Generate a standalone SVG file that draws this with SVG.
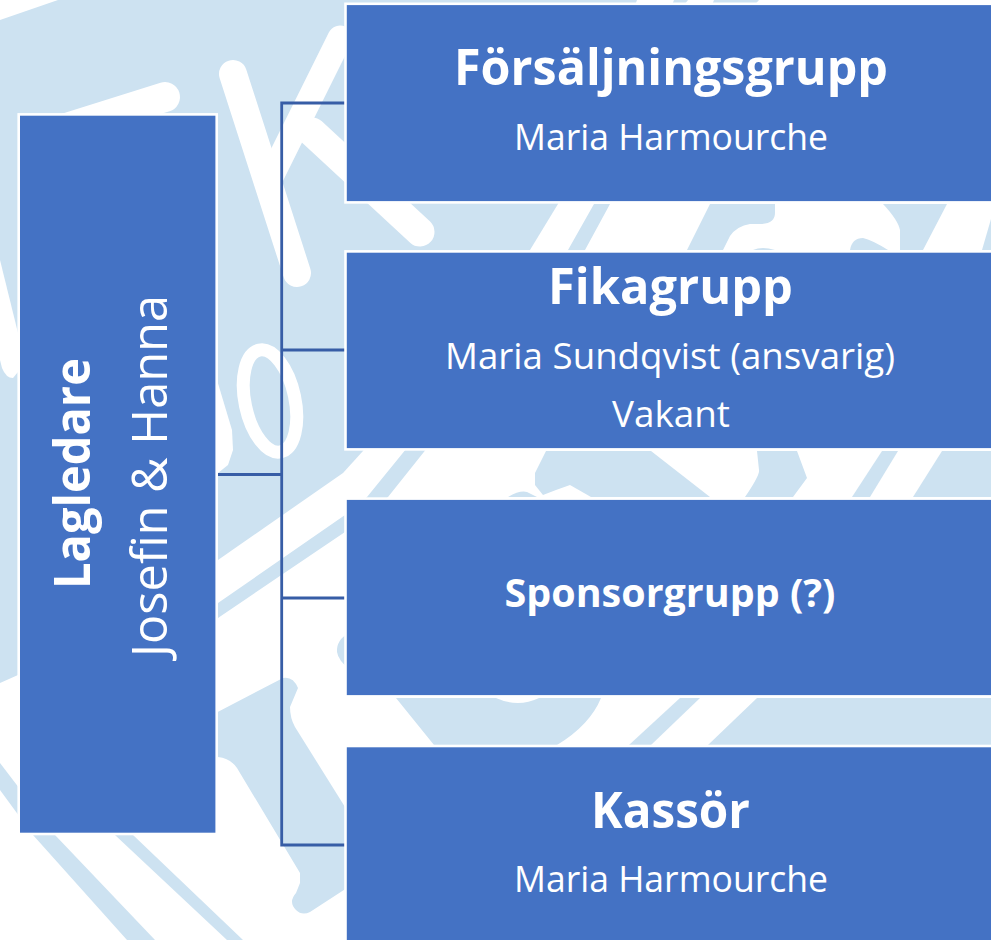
<svg xmlns="http://www.w3.org/2000/svg" width="991" height="940" viewBox="0 0 991 940">
<style>
.bg{fill:#cde2f1}
.wh{fill:#fff}
.ws{fill:none;stroke:#fff;stroke-linecap:round}
.box{fill:#4472c4;stroke:#fff;stroke-width:2.6}
.conn{fill:none;stroke:#375da6;stroke-width:2.8}
text{font-family:"Open Sans","Noto Sans","Liberation Sans",sans-serif;fill:#fff;text-anchor:start}
.t{font-weight:700}
.s{font-weight:400}
.l{font-weight:400}
</style>
<rect width="991" height="940" fill="#fff"/>
<g id="background">
<path class="bg" d="M0 0H637L558 204 530 250 363 451 343 473 218 560 18 675 0 683Z"/>
<path class="bg" d="M674 0H688L680 10H670ZM714 0H759L750 10H710Z"/>
<path class="bg" d="M594 204H610L585 250 388 497 345 532 218 618 200 630V612L218 603 345 515 367 497 568 250Z"/>
<path class="bg" d="M710 204H775V213Q775 223 762 224L750 224Q737 226 730 236L723 250H687Z"/>
<path class="bg" d="M753 250Q762 246 775 250Z"/>
<path class="bg" d="M883 204H947L923 250H900V230Q898 220 883 204Z"/>
<path class="bg" d="M850 250Q852 238 863 238 872 240 888 250Z"/>
<path class="bg" d="M991 219V250H982Z"/>
<path class="bg" d="M546 451H651L710 497H591L570 485 556 490 543 495 535 485V473Z"/>
<path class="bg" d="M508 497Q520 490 527 492L537 497Z"/>
<path class="bg" d="M757 451H797L807 478 793 497H745Q760 475 759 470Z"/>
<path class="bg" d="M882 451H898L870 497H852Z"/>
<path class="bg" d="M942 451H991V497H913Z"/>
<path class="bg" d="M396 698H496Q518 708 539 698H601Q590 725 557 745H434Z"/>
<path class="bg" d="M680 698H700L651 745H629Z"/>
<path class="bg" d="M757 698H991V745H708Z"/>
<path class="bg" d="M0 763 55 835 155 940H127L33 835 0 790Z"/>
<path class="bg" d="M100 815H118L133 835 243 940H227L115 835Z"/>
<path class="bg" d="M210 716 283 678Q293 676 298 688L290 707Q290 718 295 727L350 815V886L310 912Q302 916 296 910 288 902 296 893L300 883V873L237 768Q230 758 218 757H210Z"/>
<path class="bg" d="M350 632Q336 640 337 652 338 660 350 670Z"/>
<path class="wh" d="M0 0H58L0 20Z"/>
<path class="wh" d="M0 260 18 333V372L13 378Q6 378 2 368L0 360Z"/>
<path class="ws" stroke-width="30" d="M60 130 165 97"/>
<path class="ws" stroke-width="28" d="M233 74 297 273"/>
<path class="ws" stroke-width="25" d="M340 38 272 175"/>
<path class="ws" stroke-width="29" d="M312 132 420 232"/>
<ellipse cx="270" cy="401" rx="25" ry="52" transform="rotate(-12 270 401)" fill="none" stroke="#fff" stroke-width="13"/>
<path class="wh" d="M210 380H217L232 430 233 450 228 465 218 473H210Z"/>
</g>
<g id="connectors">
<path class="conn" d="M345 103H281.7V845H345M281.7 350H345M281.7 598H345M218 474.5H281.7"/>
</g>
<g id="node-lagledare">
<rect class="box" x="18.7" y="114.4" width="198" height="719.6"/>
<text class="t" font-size="50" transform="translate(90 589) rotate(-90)" textLength="231" lengthAdjust="spacingAndGlyphs">Lagledare</text>
<text class="l" font-size="50" transform="translate(166.7 657) rotate(-90)" textLength="362" lengthAdjust="spacingAndGlyphs">Josefin &amp; Hanna</text>
</g>
<g id="node-forsaljningsgrupp">
<rect class="box" x="345.5" y="3.8" width="660" height="198.6"/>
<text class="t" font-size="50" x="454" y="85" textLength="434" lengthAdjust="spacingAndGlyphs">Försäljningsgrupp</text>
<text class="s" font-size="36" x="514" y="150" textLength="314" lengthAdjust="spacingAndGlyphs">Maria Harmourche</text>
</g>
<g id="node-fikagrupp">
<rect class="box" x="345.5" y="251.4" width="660" height="198"/>
<text class="t" font-size="50" x="548" y="304" textLength="245" lengthAdjust="spacingAndGlyphs">Fikagrupp</text>
<text class="s" font-size="36" x="445" y="369" textLength="450" lengthAdjust="spacingAndGlyphs">Maria Sundqvist (ansvarig)</text>
<text class="s" font-size="36" x="612" y="427" textLength="118" lengthAdjust="spacingAndGlyphs">Vakant</text>
</g>
<g id="node-sponsorgrupp">
<rect class="box" x="345.5" y="498.6" width="660" height="197.8"/>
<text class="t" font-size="39" x="504.5" y="606.7" textLength="331" lengthAdjust="spacingAndGlyphs">Sponsorgrupp (?)</text>
</g>
<g id="node-kassor">
<rect class="box" x="345.5" y="746" width="660" height="210"/>
<text class="t" font-size="50" x="591" y="828" textLength="159" lengthAdjust="spacingAndGlyphs">Kassör</text>
<text class="s" font-size="36" x="514" y="892" textLength="314" lengthAdjust="spacingAndGlyphs">Maria Harmourche</text>
</g>
</svg>
